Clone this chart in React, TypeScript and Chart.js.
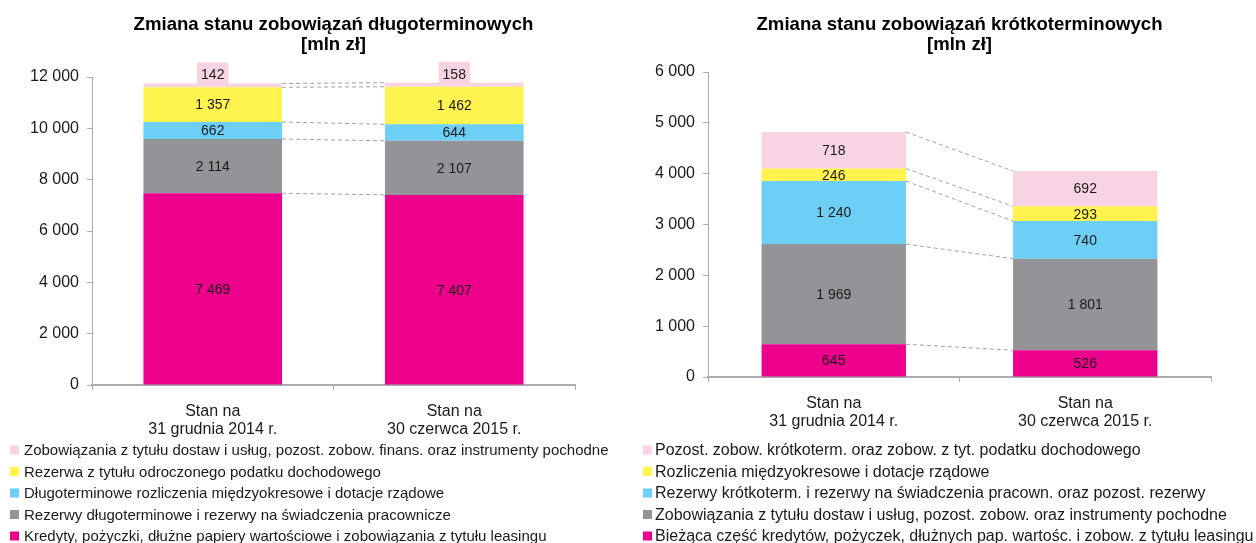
import React, { useEffect, useRef } from "react";
import { Chart, registerables } from "chart.js";

Chart.register(...registerables);

const FONT = "'Liberation Sans', Arial, Helvetica, sans-serif";
const AXIS_COLOR = "#ABABAB";
const TEXT_COLOR = "#1A1A1A";

// ---------- shared ----------
const categories = [
  ["Stan na", "31 grudnia 2014 r."],
  ["Stan na", "30 czerwca 2015 r."],
];
const colors = ["#EC008C", "#929497", "#6DCFF6", "#FFF350", "#F8D3E4"];

// ---------- long-term liabilities ----------
const ltTitle = ["Zmiana stanu zobowiązań długoterminowych", "[mln zł]"];
const ltKredyty = [7469, 7407];
const ltRezerwy = [2114, 2107];
const ltRozliczenia = [662, 644];
const ltPodatek = [1357, 1462];
const ltZobowiazania = [142, 158];
const ltSeriesNames = [
  "Kredyty, pożyczki, dłużne papiery wartościowe i zobowiązania z tytułu leasingu",
  "Rezerwy długoterminowe i rezerwy na świadczenia pracownicze",
  "Długoterminowe rozliczenia międzyokresowe i dotacje rządowe",
  "Rezerwa z tytułu odroczonego podatku dochodowego",
  "Zobowiązania z tytułu dostaw i usług, pozost. zobow. finans. oraz instrumenty pochodne",
];
const ltMax = 12000;
const ltStep = 2000;

// ---------- short-term liabilities ----------
const stTitle = ["Zmiana stanu zobowiązań krótkoterminowych", "[mln zł]"];
const stBiezaca = [645, 526];
const stDostawy = [1969, 1801];
const stRezerwy = [1240, 740];
const stRozliczenia = [246, 293];
const stPozostale = [718, 692];
const stSeriesNames = [
  "Bieżąca część kredytów, pożyczek, dłużnych pap. wartośc. i zobow. z tytułu leasingu",
  "Zobowiązania z tytułu dostaw i usług, pozost. zobow. oraz instrumenty pochodne",
  "Rezerwy krótkoterm. i rezerwy na świadczenia pracown. oraz pozost. rezerwy",
  "Rozliczenia międzyokresowe i dotacje rządowe",
  "Pozost. zobow. krótkoterm. oraz zobow. z tyt. podatku dochodowego",
];
const stMax = 6000;
const stStep = 1000;

const fmt = (v: number) =>
  Math.round(v).toString().replace(/\B(?=(\d{3})+(?!\d))/g, " ");

type PanelCfg = {
  title: string[];
  series: number[][];
  names: string[];
  max: number;
  step: number;
  layout: { yWidth: number; right: number; top: number; bottom: number };
  legend: { markerX: number; textX: number; size: number };
};

const W = 628;
const H = 543;

function makePlugin(cfg: PanelCfg) {
  return {
    id: "custom-draw",
    afterDatasetsDraw(chart: any) {
      const ctx = chart.ctx as CanvasRenderingContext2D;
      const n = chart.data.datasets.length;
      // dashed connectors between the tops of matching segments
      ctx.save();
      ctx.strokeStyle = "#A0A0A0";
      ctx.lineWidth = 1;
      ctx.setLineDash([4, 3]);
      for (let i = 0; i < n; i++) {
        const meta = chart.getDatasetMeta(i);
        const a = meta.data[0] as any;
        const b = meta.data[1] as any;
        ctx.beginPath();
        ctx.moveTo(a.x + a.width / 2, a.y);
        ctx.lineTo(b.x - b.width / 2, b.y);
        ctx.stroke();
      }
      ctx.restore();
      // data labels
      ctx.save();
      ctx.font = `14px ${FONT}`;
      ctx.textAlign = "center";
      ctx.textBaseline = "middle";
      for (let i = 0; i < n; i++) {
        const meta = chart.getDatasetMeta(i);
        const ds = chart.data.datasets[i];
        meta.data.forEach((el: any, j: number) => {
          const v = ds.data[j] as number;
          const h = Math.abs(el.base - el.y);
          let cy = (el.y + el.base) / 2;
          const txt = fmt(v);
          if (h < 8) {
            cy -= 11;
            const tw = ctx.measureText(txt).width + 8;
            ctx.fillStyle = ds.backgroundColor as string;
            ctx.fillRect(el.x - tw / 2, cy - 12, tw, 24);
          }
          ctx.fillStyle = TEXT_COLOR;
          ctx.fillText(txt, el.x, cy + 1);
        });
      }
      ctx.restore();
    },
    afterDraw(chart: any) {
      const ctx = chart.ctx as CanvasRenderingContext2D;
      const ca = chart.chartArea;
      const cx = (ca.left + ca.right) / 2;
      ctx.save();
      // title
      ctx.fillStyle = "#000";
      ctx.font = `bold 18.6px ${FONT}`;
      ctx.textAlign = "center";
      ctx.textBaseline = "middle";
      cfg.title.forEach((t, k) => ctx.fillText(t, cx, 25 + k * 20));
      // legend (reverse order, top series first)
      ctx.font = `${cfg.legend.size}px ${FONT}`;
      ctx.textAlign = "left";
      const n = chart.data.datasets.length;
      for (let k = 0; k < n; k++) {
        const ds = chart.data.datasets[n - 1 - k];
        const y = 450 + k * 21.5;
        ctx.fillStyle = ds.backgroundColor as string;
        ctx.fillRect(cfg.legend.markerX, y - 4.5, 9, 9);
        ctx.fillStyle = TEXT_COLOR;
        ctx.fillText(ds.label as string, cfg.legend.textX, y + 1);
      }
      ctx.restore();
    },
  };
}

function Panel({ cfg, left }: { cfg: PanelCfg; left: number }) {
  const ref = useRef<HTMLCanvasElement>(null);
  useEffect(() => {
    if (!ref.current) return;
    const chart = new Chart(ref.current, {
      type: "bar",
      data: {
        labels: categories,
        datasets: cfg.series.map((s, i) => ({
          label: cfg.names[i],
          data: s,
          backgroundColor: colors[i],
          borderWidth: 0,
          categoryPercentage: 1,
          barPercentage: 0.574,
        })),
      },
      options: {
        responsive: false,
        animation: false,
        devicePixelRatio: 1,
        layout: {
          padding: {
            left: 0,
            right: cfg.layout.right,
            top: cfg.layout.top,
            bottom: 0,
          },
        },
        plugins: {
          legend: { display: false },
          title: { display: false },
          tooltip: { enabled: false },
        },
        scales: {
          x: {
            stacked: true,
            offset: true,
            grid: {
              display: true,
              offset: true,
              drawOnChartArea: false,
              drawTicks: true,
              tickLength: 5,
              color: AXIS_COLOR,
              lineWidth: 1,
            },
            border: { color: AXIS_COLOR, width: 2 },
            ticks: {
              font: { family: FONT, size: 16, lineHeight: 1.1 },
              color: TEXT_COLOR,
              padding: 13,
              maxRotation: 0,
              autoSkip: false,
            },
            afterFit: (s: any) => {
              s.height = H - cfg.layout.bottom;
            },
          },
          y: {
            stacked: true,
            min: 0,
            max: cfg.max,
            grid: {
              display: true,
              drawOnChartArea: false,
              drawTicks: true,
              tickLength: 5,
              color: AXIS_COLOR,
            },
            border: { color: AXIS_COLOR, width: 1 },
            ticks: {
              stepSize: cfg.step,
              font: { family: FONT, size: 16 },
              color: TEXT_COLOR,
              padding: 8,
              callback: (v: any) => fmt(Number(v)),
            },
            afterFit: (s: any) => {
              s.width = cfg.layout.yWidth;
            },
          },
        },
      },
      plugins: [makePlugin(cfg)],
    });
    return () => chart.destroy();
  }, [cfg]);
  return (
    <canvas
      ref={ref}
      width={W}
      height={H}
      style={{ position: "absolute", left, top: 0, width: W, height: H }}
    />
  );
}

const ltCfg: PanelCfg = {
  title: ltTitle,
  series: [ltKredyty, ltRezerwy, ltRozliczenia, ltPodatek, ltZobowiazania],
  names: ltSeriesNames,
  max: ltMax,
  step: ltStep,
  layout: { yWidth: 92, right: 53, top: 77, bottom: 385 },
  legend: { markerX: 10, textX: 24, size: 15 },
};

const stCfg: PanelCfg = {
  title: stTitle,
  series: [stBiezaca, stDostawy, stRezerwy, stRozliczenia, stPozostale],
  names: stSeriesNames,
  max: stMax,
  step: stStep,
  layout: { yWidth: 80, right: 45, top: 72, bottom: 377 },
  legend: { markerX: 15, textX: 27, size: 16 },
};

export default function App() {
  return (
    <div
      style={{
        position: "fixed",
        left: 0,
        top: 0,
        width: 1256,
        height: 543,
        background: "#fff",
        overflow: "hidden",
      }}
    >
      <Panel cfg={ltCfg} left={0} />
      <Panel cfg={stCfg} left={628} />
    </div>
  );
}
